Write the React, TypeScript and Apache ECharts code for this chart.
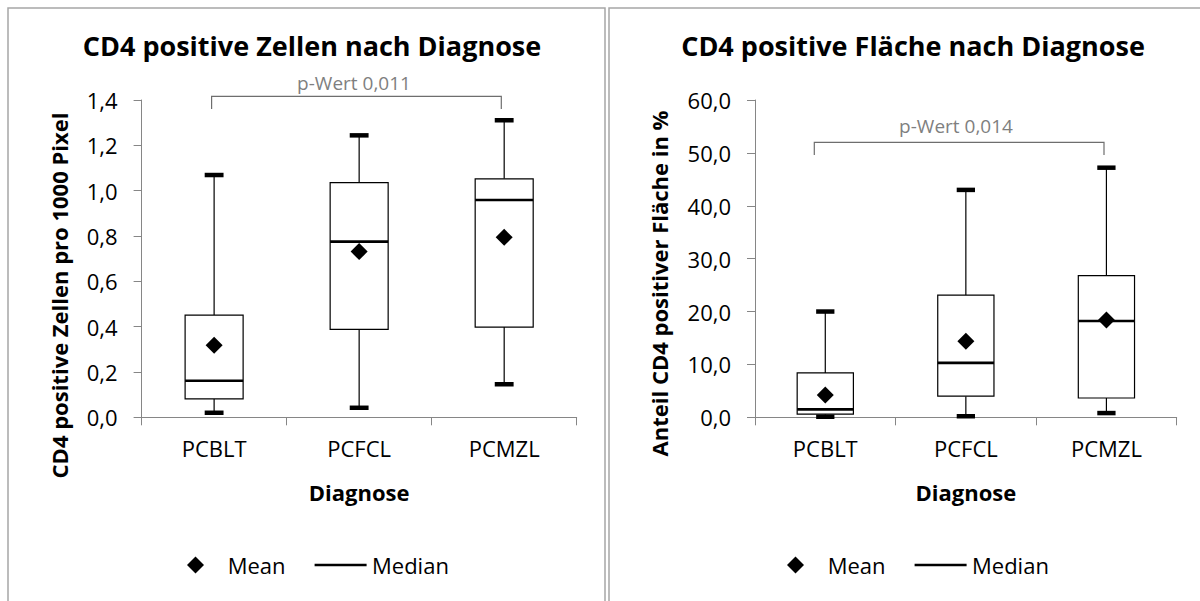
import React, { useEffect, useRef } from "react";
import * as echarts from "echarts";

const categories = ["PCBLT", "PCFCL", "PCMZL"];

// Left chart: CD4 positive Zellen pro 1000 Pixel
const cellsMin = [0.02, 0.042, 0.146];
const cellsQ1 = [0.081, 0.388, 0.398];
const cellsMedian = [0.161, 0.775, 0.959];
const cellsQ3 = [0.451, 1.035, 1.052];
const cellsMax = [1.069, 1.244, 1.311];
const cellsMean = [0.318, 0.731, 0.794];

// Right chart: Anteil CD4 positiver Fläche in %
const areaMin = [0.1, 0.2, 0.8];
const areaQ1 = [0.6, 4.0, 3.65];
const areaMedian = [1.5, 10.3, 18.2];
const areaQ3 = [8.4, 23.1, 26.8];
const areaMax = [20.0, 43.0, 47.2];
const areaMean = [4.2, 14.4, 18.4];

const FONT = "'Open Sans', 'Noto Sans', sans-serif";
const AXIS_GRAY = "#868686";

function boxRows(mn: number[], q1: number[], md: number[], q3: number[], mx: number[]) {
  return categories.map((_, i) => [i, mn[i], q1[i], md[i], q3[i], mx[i]]);
}

function renderBox(params: any, api: any) {
  const i = api.value(0);
  const w = api.size([1, 0])[0];
  const bw = w * 0.4;
  const cw = w * 0.13;
  const cx = api.coord([i, api.value(1)])[0];
  const yMin = api.coord([i, api.value(1)])[1];
  const yQ1 = api.coord([i, api.value(2)])[1];
  const yMed = api.coord([i, api.value(3)])[1];
  const yQ3 = api.coord([i, api.value(4)])[1];
  const yMax = api.coord([i, api.value(5)])[1];
  const lineStyle = { stroke: "#000", lineWidth: 1.2 };
  return {
    type: "group",
    children: [
      { type: "line", shape: { x1: cx, y1: yMax, x2: cx, y2: yQ3 }, style: lineStyle },
      { type: "line", shape: { x1: cx, y1: yQ1, x2: cx, y2: yMin }, style: lineStyle },
      {
        type: "rect",
        shape: { x: cx - bw / 2, y: yQ3, width: bw, height: yQ1 - yQ3 },
        style: { fill: "#fff", stroke: "#000", lineWidth: 1.2 },
      },
      {
        type: "line",
        shape: { x1: cx - bw / 2, y1: yMed, x2: cx + bw / 2, y2: yMed },
        style: { stroke: "#000", lineWidth: 2.6 },
      },
      { type: "rect", shape: { x: cx - cw / 2, y: yMax - 2.25, width: cw, height: 4.5 }, style: { fill: "#000" } },
      { type: "rect", shape: { x: cx - cw / 2, y: yMin - 2.25, width: cw, height: 4.5 }, style: { fill: "#000" } },
    ],
  };
}

function makeYAxis(gridIndex: number, max: number, interval: number) {
  return {
    type: "value",
    gridIndex,
    min: 0,
    max,
    interval,
    axisLine: { show: true, lineStyle: { color: AXIS_GRAY, width: 1 } },
    axisTick: { show: true, length: 8, lineStyle: { color: AXIS_GRAY } },
    splitLine: { show: false },
    axisLabel: {
      color: "#000",
      fontFamily: FONT,
      fontSize: 22,
      margin: 24,
      formatter: (v: number) => v.toFixed(1).replace(".", ","),
    },
  };
}

function makeXAxis(gridIndex: number) {
  return {
    type: "category",
    gridIndex,
    data: categories,
    boundaryGap: true,
    axisLine: { show: true, lineStyle: { color: AXIS_GRAY, width: 1 } },
    axisTick: { show: true, length: 8, alignWithLabel: false, lineStyle: { color: AXIS_GRAY } },
    axisLabel: { color: "#000", fontFamily: FONT, fontSize: 22, margin: 20 },
    name: "Diagnose",
    nameLocation: "middle",
    nameGap: 64,
    nameTextStyle: { color: "#000", fontFamily: FONT, fontSize: 22, fontWeight: "bold" },
  };
}

function legendGraphics(offsetX: number) {
  const cx = 195.5 + offsetX;
  const cy = 565;
  return [
    {
      type: "polygon",
      shape: { points: [[cx, cy - 8.5], [cx + 8.5, cy], [cx, cy + 8.5], [cx - 8.5, cy]] },
      style: { fill: "#000" },
    },
    {
      type: "text",
      x: 227.7 + offsetX,
      y: cy,
      style: { text: "Mean", font: `22px ${FONT}`, fill: "#000", verticalAlign: "middle", align: "left" },
    },
    {
      type: "line",
      shape: { x1: 314.6 + offsetX, y1: cy, x2: 366.6 + offsetX, y2: cy },
      style: { stroke: "#000", lineWidth: 2.6 },
    },
    {
      type: "text",
      x: 372 + offsetX,
      y: cy,
      style: { text: "Median", font: `22px ${FONT}`, fill: "#000", verticalAlign: "middle", align: "left" },
    },
  ];
}

export default function App() {
  const ref = useRef<HTMLDivElement>(null);

  useEffect(() => {
    if (!ref.current) return;
    const chart = echarts.init(ref.current, null, { renderer: "svg" });
    const bracketColor = "#6e6e6e";
    const option: any = {
      animation: false,
      backgroundColor: "#fff",
      title: [
        {
          text: "CD4 positive Zellen nach Diagnose",
          left: 307,
          top: 27,
          textAlign: "center",
          textStyle: { fontFamily: FONT, fontSize: 27, fontWeight: "bold", color: "#000" },
        },
        {
          text: "CD4 positive Fläche nach Diagnose",
          left: 908,
          top: 27,
          textAlign: "center",
          textStyle: { fontFamily: FONT, fontSize: 27, fontWeight: "bold", color: "#000" },
        },
      ],
      grid: [
        { left: 141.6, top: 100, width: 435.1, height: 317.3 },
        { left: 755, top: 100, width: 421.7, height: 317.3 },
      ],
      xAxis: [makeXAxis(0), makeXAxis(1)],
      yAxis: [makeYAxis(0, 1.4, 0.2), makeYAxis(1, 60, 10)],
      series: [
        {
          type: "custom",
          name: "Zellen",
          xAxisIndex: 0,
          yAxisIndex: 0,
          renderItem: renderBox,
          encode: { x: 0, y: [1, 2, 3, 4, 5] },
          data: boxRows(cellsMin, cellsQ1, cellsMedian, cellsQ3, cellsMax),
          z: 2,
        },
        {
          type: "scatter",
          name: "Mean",
          xAxisIndex: 0,
          yAxisIndex: 0,
          symbol: "diamond",
          symbolSize: 17,
          itemStyle: { color: "#000", opacity: 1 },
          data: cellsMean,
          z: 5,
        },
        {
          type: "custom",
          name: "Fläche",
          xAxisIndex: 1,
          yAxisIndex: 1,
          renderItem: renderBox,
          encode: { x: 0, y: [1, 2, 3, 4, 5] },
          data: boxRows(areaMin, areaQ1, areaMedian, areaQ3, areaMax),
          z: 2,
        },
        {
          type: "scatter",
          name: "Mean",
          xAxisIndex: 1,
          yAxisIndex: 1,
          symbol: "diamond",
          symbolSize: 17,
          itemStyle: { color: "#000", opacity: 1 },
          data: areaMean,
          z: 5,
        },
      ],
      graphic: [
        // panel borders
        {
          type: "rect",
          shape: { x: 8, y: 8, width: 597, height: 640 },
          style: { fill: "none", stroke: "#a6a6a6", lineWidth: 1.5 },
          z: -1,
        },
        {
          type: "rect",
          shape: { x: 609, y: 8, width: 640, height: 640 },
          style: { fill: "none", stroke: "#a6a6a6", lineWidth: 1.5 },
          z: -1,
        },
        // y axis names
        {
          type: "text",
          x: 59.3,
          y: 295.5,
          rotation: Math.PI / 2,
          style: {
            text: "CD4 positive Zellen pro 1000 Pixel",
            font: `bold 22px ${FONT}`,
            fill: "#000",
            align: "center",
            verticalAlign: "middle",
          },
        },
        {
          type: "text",
          x: 659.3,
          y: 283.5,
          rotation: Math.PI / 2,
          style: {
            text: "Anteil CD4 positiver Fläche in %",
            font: `bold 22px ${FONT}`,
            fill: "#000",
            align: "center",
            verticalAlign: "middle",
          },
        },
        // significance brackets
        {
          type: "polyline",
          shape: { points: [[211.6, 109], [211.6, 96.3], [501.3, 96.3], [501.3, 109]] },
          style: { stroke: bracketColor, lineWidth: 1.2, fill: "none" },
        },
        {
          type: "text",
          x: 354,
          y: 82.7,
          style: { text: "p-Wert 0,011", font: `19px ${FONT}`, fill: "#7f7f7f", align: "center", verticalAlign: "middle" },
        },
        {
          type: "polyline",
          shape: { points: [[814.3, 155], [814.3, 142.3], [1104, 142.3], [1104, 155]] },
          style: { stroke: bracketColor, lineWidth: 1.2, fill: "none" },
        },
        {
          type: "text",
          x: 956,
          y: 126,
          style: { text: "p-Wert 0,014", font: `19px ${FONT}`, fill: "#7f7f7f", align: "center", verticalAlign: "middle" },
        },
        ...legendGraphics(0),
        ...legendGraphics(600),
      ],
    };
    chart.setOption(option);
    return () => chart.dispose();
  }, []);

  return (
    <div
      ref={ref}
      style={{ position: "absolute", left: 0, top: 0, width: 1200, height: 601, background: "#fff" }}
    />
  );
}
